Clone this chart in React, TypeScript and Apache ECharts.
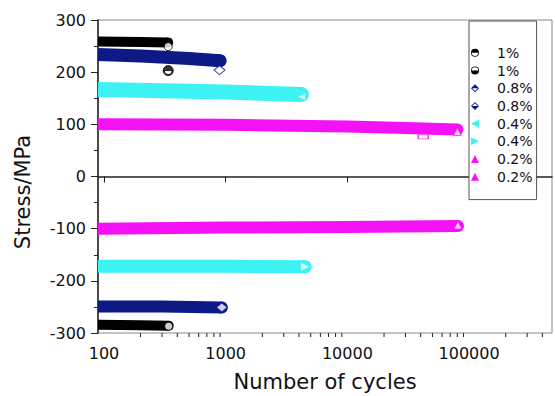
import React, { useEffect, useRef } from 'react';
import * as echarts from 'echarts';

// ---------- data ----------
const legendLabels = ['1%', '1%', '0.8%', '0.8%', '0.4%', '0.4%', '0.2%', '0.2%'];
const seriesKeys = ['1%_max', '1%_min', '0.8%_max', '0.8%_min', '0.4%_max', '0.4%_min', '0.2%_max', '0.2%_min'];

// [cycles, stress MPa]
const s1Max = [[89.3, 259], [200, 258], [337, 257]];
const s1Min = [[89.3, -284], [200, -285], [340, -286]];
const s08Max = [[89.3, 234], [200, 231], [500, 226], [900, 222]];
const s08Min = [[89.3, -249], [300, -249], [930, -251]];
const s04Max = [[89.3, 167], [1000, 162], [4200, 157]];
const s04Min = [[89.3, -172], [1000, -172], [4500, -173]];
const s02Max = [[89.3, 100], [1000, 99], [10000, 96], [30000, 93], [80000, 90]];
const s02Min = [[89.3, -100], [1000, -98], [10000, -97], [81000, -95]];

// end-of-test markers / outliers
const blackEnds = [[337, 249], [340, -287]];
const blackOutlier = [[337, 203]];
const navyEnds = [[890, 204], [930, -251]];
const cyanEndMax = [[4200, 153]];
const cyanEndMin = [[4500, -173]];
const magentaEnds = [[80000, 86], [81000, -93]];
const magentaOutlier = [[42000, 76]];

const xMinorTicks = [200, 300, 400, 500, 600, 700, 800, 900, 2000, 3000, 4000, 5000, 6000, 7000, 8000, 9000,
  20000, 30000, 40000, 50000, 60000, 70000, 80000, 90000, 200000, 300000, 400000];

const FONT = 'DejaVu Sans';
const BLACK = '#000000';
const NAVY = '#0d1a86';
const CYAN = '#3cf2f2';
const MAGENTA = '#f511f5';

const HALF_CIRCLE_TOP = 'path://M0,5A5,5 0 0 1 10,5Z M0,5A5,5 0 0 0 10,5L9,5A4,4 0 0 1 1,5Z';
const HALF_CIRCLE_BOTTOM = 'path://M0,5A5,5 0 0 0 10,5Z M0,5A5,5 0 0 1 10,5L9,5A4,4 0 0 0 1,5Z';
const HALF_DIAMOND_TOP = 'path://M0,5L5,0L10,5Z M0,5L5,10L10,5L8.5,5L5,8.5L1.5,5Z';
const HALF_DIAMOND_BOTTOM = 'path://M0,5L5,10L10,5Z M0,5L5,0L10,5L8.5,5L5,1.5L1.5,5Z';
const TRI_LEFT = 'path://M0,5L10,0L10,10Z';
const TRI_RIGHT = 'path://M0,0L10,5L0,10Z';
const TRI_UP = 'path://M5,0L10,10L0,10Z';

export default function App() {
  const ref = useRef<HTMLDivElement>(null);

  useEffect(() => {
    if (!ref.current) return;
    const chart = echarts.init(ref.current, undefined, { renderer: 'svg' });

    const bandData = [s1Max, s1Min, s08Max, s08Min, s04Max, s04Min, s02Max, s02Min];
    const bandColors = [BLACK, BLACK, NAVY, NAVY, CYAN, CYAN, MAGENTA, MAGENTA];
    const bandWidths = [10, 10, 13, 12, 15, 13, 12, 12];
    const icons = [HALF_CIRCLE_TOP, HALF_CIRCLE_BOTTOM, HALF_DIAMOND_TOP, HALF_DIAMOND_BOTTOM, TRI_LEFT, TRI_RIGHT, TRI_UP, TRI_UP];

    const bands = seriesKeys.map((k, i) => ({
      name: k,
      type: 'line',
      data: bandData[i].map((p, j) =>
        j === bandData[i].length - 1
          ? { value: p, symbol: 'circle', symbolSize: bandWidths[i] }
          : { value: p }
      ),
      symbol: 'none',
      showSymbol: true,
      clip: true,
      itemStyle: { color: bandColors[i], borderWidth: 0 },
      lineStyle: { color: bandColors[i], width: bandWidths[i], cap: 'butt', join: 'round' },
      z: 2,
    }));

    const marker = (data: number[][], symbol: string, size: any, fill: string, stroke: string) => ({
      type: 'scatter',
      data,
      symbol,
      symbolSize: size,
      itemStyle: { color: fill, borderColor: stroke, borderWidth: 1 },
      z: 3,
      silent: true,
    });

    const option: any = {
      animation: false,
      grid: {
        left: 98, right: 3, top: 20, bottom: 63,
        show: true, borderColor: '#888', borderWidth: 1,
        containLabel: false, outerBoundsMode: 'none',
      },
      legend: {
        data: seriesKeys.map((k, i) => ({ name: k, icon: icons[i] })),
        formatter: (name: string) => legendLabels[seriesKeys.indexOf(name)],
        orient: 'vertical',
        left: 469,
        top: 21,
        padding: [23, 4, 14, 2],
        itemWidth: 34,
        itemHeight: 8,
        itemGap: 0,
        selectedMode: false,
        borderColor: '#555',
        borderWidth: 1,
        backgroundColor: '#fff',
        textStyle: { fontFamily: FONT, fontSize: 14, color: '#111', lineHeight: 17.7 },
      },
      xAxis: {
        type: 'log',
        logBase: 10,
        min: 89.3,
        max: 480000,
        name: 'Number of cycles',
        nameLocation: 'middle',
        nameGap: 38,
        nameTextStyle: { fontFamily: FONT, fontSize: 21, color: '#111' },
        axisLine: { show: true, lineStyle: { color: '#222', width: 1.5 } },
        axisTick: { show: true, length: 6, lineStyle: { color: '#222' } },
        axisLabel: {
          showMinLabel: false,
          showMaxLabel: false,
          formatter: (v: number) => String(Math.round(v)),
          fontFamily: FONT,
          fontSize: 16,
          color: '#111',
          margin: 12,
        },
        splitLine: { show: false },
      },
      yAxis: {
        type: 'value',
        min: -300,
        max: 300,
        interval: 100,
        axisLine: { show: true, lineStyle: { color: '#222', width: 1.5 } },
        axisTick: { show: true, length: 7, lineStyle: { color: '#222' } },
        minorTick: { show: true, splitNumber: 2, length: 4, lineStyle: { color: '#222' } },
        axisLabel: { fontFamily: FONT, fontSize: 16, color: '#111', margin: 12 },
        splitLine: { show: false },
      },
      graphic: [
        {
          type: 'text',
          x: 23,
          y: 192,
          rotation: Math.PI / 2,
          style: { text: 'Stress/MPa', font: `21px "${FONT}"`, fill: '#111', align: 'center', verticalAlign: 'middle' },
        },
      ],
      series: [
        ...bands,
        marker(blackEnds, 'circle', 8, '#fff', BLACK),
        marker(blackOutlier, HALF_CIRCLE_TOP, 10, BLACK, BLACK),
        marker(navyEnds, 'diamond', [11, 9], '#fff', NAVY),
        marker(cyanEndMax, TRI_LEFT, 8, '#fff', CYAN),
        marker(cyanEndMin, TRI_RIGHT, 9, '#fff', CYAN),
        marker(magentaEnds, 'triangle', 8, '#fff', MAGENTA),
        marker(magentaOutlier, 'rect', [10, 4], '#fff', MAGENTA),
        {
          type: 'custom',
          silent: true,
          clip: false,
          data: xMinorTicks.map((v) => [v, -300]),
          encode: { x: 0, y: 1 },
          renderItem: (params: any, api: any) => {
            const p = api.coord([api.value(0), api.value(1)]);
            return {
              type: 'line',
              shape: { x1: p[0], y1: p[1], x2: p[0], y2: p[1] + 4 },
              style: { stroke: '#222', lineWidth: 1 },
            };
          },
        },
      ],
    };

    chart.setOption(option);
    return () => chart.dispose();
  }, []);

  return <div ref={ref} style={{ width: 555, height: 396, position: 'absolute', left: 0, top: 0 }} />;
}
